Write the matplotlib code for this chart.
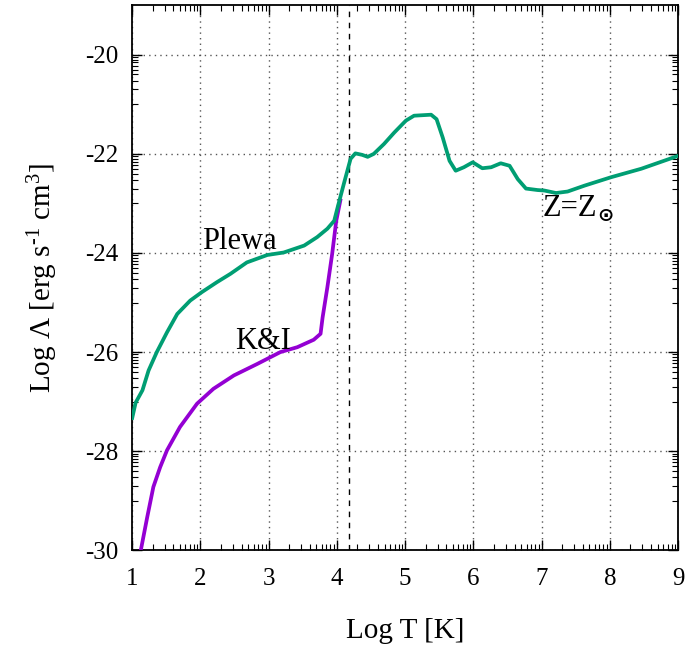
import numpy as np
import matplotlib.pyplot as plt
from matplotlib.ticker import FixedLocator

plt.rcParams['font.family'] = ['Liberation Serif', 'DejaVu Serif']
plt.rcParams['mathtext.fontset'] = 'custom'
plt.rcParams['mathtext.rm'] = 'Liberation Serif'
plt.rcParams['mathtext.it'] = 'Liberation Serif:italic'
plt.rcParams['axes.unicode_minus'] = False

# Plewa cooling curve (log T, log Lambda)
plewa_T = [1.0, 1.05, 1.15, 1.24, 1.36, 1.51, 1.66, 1.85, 2.02, 2.24, 2.44,
           2.68, 2.98, 3.22, 3.52, 3.71, 3.86, 3.96, 4.01, 4.10, 4.20, 4.27,
           4.37, 4.45, 4.54, 4.69, 4.84, 5.01, 5.13, 5.38, 5.46, 5.55, 5.65,
           5.74, 5.86, 5.99, 6.13, 6.26, 6.40, 6.53, 6.65, 6.77, 6.94, 7.04,
           7.21, 7.38, 7.63, 8.02, 8.46, 9.0]
plewa_L = [-27.33, -27.02, -26.77, -26.37, -26.0, -25.6, -25.23, -24.96,
           -24.79, -24.59, -24.42, -24.19, -24.04, -23.99, -23.85, -23.68,
           -23.51, -23.35, -23.08, -22.61, -22.10, -21.99, -22.02, -22.06,
           -22.0, -21.80, -21.57, -21.33, -21.23, -21.21, -21.30, -21.67,
           -22.14, -22.34, -22.27, -22.17, -22.29, -22.27, -22.19, -22.24,
           -22.51, -22.70, -22.73, -22.74, -22.79, -22.76, -22.64, -22.47,
           -22.30, -22.04]

# Koyama & Inutsuka curve
ki_T = [1.13, 1.22, 1.31, 1.41, 1.51, 1.70, 1.95, 2.19, 2.49, 2.83, 3.17,
        3.42, 3.66, 3.76, 3.79, 3.86, 3.93, 3.99, 4.05]
ki_L = [-29.97, -29.33, -28.72, -28.32, -27.98, -27.51, -27.04, -26.74,
        -26.47, -26.24, -26.0, -25.90, -25.75, -25.63, -25.30, -24.69,
        -24.02, -23.35, -22.94]

T_cut = 4.17

fig = plt.figure(figsize=(6.85, 6.46), dpi=100)
ax = fig.add_axes([0.193, 0.148, 0.797, 0.844])

ax.plot(ki_T, ki_L, color='#9400d3', lw=2.7, zorder=3,
        solid_joinstyle='round')
ax.plot(plewa_T, plewa_L, color='#009e73', lw=2.7, zorder=4,
        solid_joinstyle='round')
ax.axvline(T_cut, color='black', ls=(0, (4, 4)), lw=1.0)

ax.text(2.02, -23.91, 'Plewa', fontsize=22, ha='left', va='baseline')
ax.text(2.51, -25.93, 'K&I', fontsize=22, ha='left', va='baseline')
ax.text(7.02, -23.25, 'Z=Z', fontsize=22, ha='left', va='baseline')
ax.text(7.94, -23.25, '⊙', fontsize=14, ha='center', va='center',
        family='DejaVu Sans', fontweight='bold')

ax.set_xlim(1, 9)
ax.set_ylim(-30, -19)
ax.set_xticks(range(1, 10))
ax.set_yticks([-30, -28, -26, -24, -22, -20])

# gnuplot-like log-spaced minor ticks
xminor = [a + np.log10(m) for a in range(1, 9) for m in range(2, 10)]
yminor = [a + 1 + np.log10(m) for a in range(-30, -19, 2) for m in range(1, 10)]
yminor = [v for v in yminor if v < -19]
ax.xaxis.set_minor_locator(FixedLocator(xminor))
ax.yaxis.set_minor_locator(FixedLocator(yminor))

ax.tick_params(which='both', direction='in', top=True, right=True)
ax.tick_params(which='major', length=7, width=1, labelsize=18)
ax.tick_params(axis='x', which='major', pad=13)
ax.tick_params(axis='y', which='major', pad=10)
ax.tick_params(which='minor', length=4, width=0.8)
ax.grid(True, which='major', color='#555555', ls=(0, (1, 3)), lw=1.0)

for s in ax.spines.values():
    s.set_linewidth(1.3)

ax.set_xlabel('Log T [K]', fontsize=21, labelpad=20)
ax.set_ylabel(r'Log Λ [erg s$^{\text{-1}}$ cm$^{\text{3}}$]', fontsize=21,
              labelpad=18)

fig.savefig('out.png', dpi=100)
